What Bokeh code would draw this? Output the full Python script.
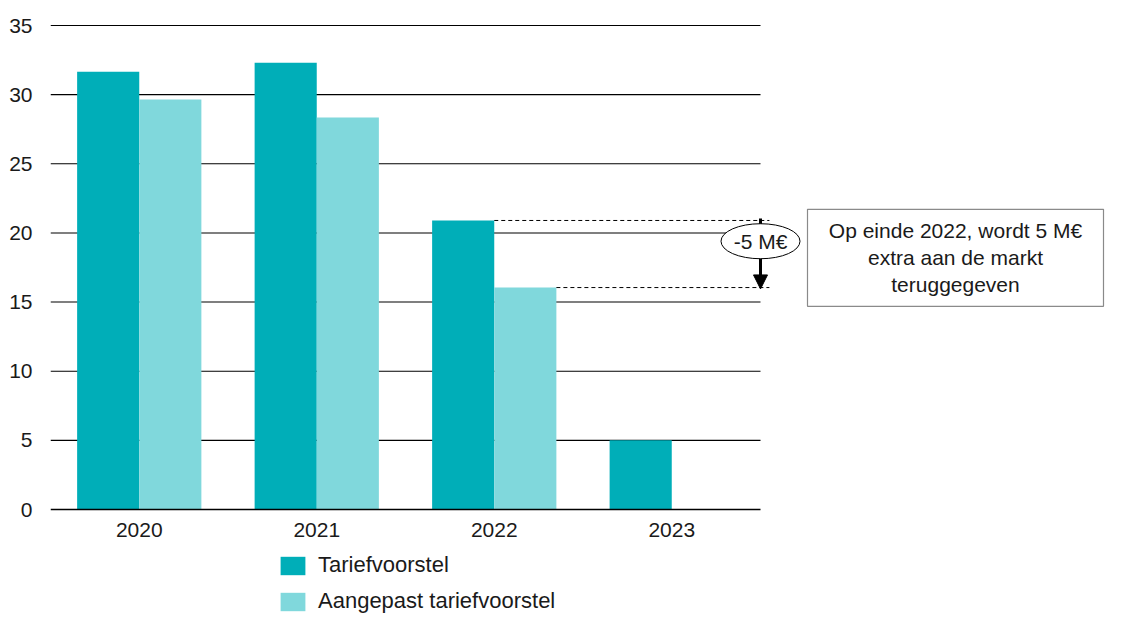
from bokeh.plotting import figure
from bokeh.models import (ColumnDataSource, Range1d, FixedTicker, Legend, LegendItem,
                          Arrow, NormalHead)
from bokeh.transform import dodge
from bokeh.embed import file_html
from bokeh.resources import INLINE
from bokeh.core.properties import value

# ---- data ----
years = ["2020", "2021", "2022", "2023"]
tariefvoorstel = [31.65, 32.3, 20.9, 5.0]
aangepast = [29.65, 28.35, 16.05, float("nan")]
y_ticks = [0, 5, 10, 15, 20, 25, 30, 35]
series_names = ["Tariefvoorstel", "Aangepast tariefvoorstel"]
delta_label = "-5 M€"
note_text = "Op einde 2022, wordt 5 M€\nextra aan de markt\nteruggegeven"
focus_year = "2022"

# ---- style / layout ----
DARK = "#00AEB8"
LIGHT = "#80D8DC"
FONT = "Liberation Sans"
TXT = "#1a1a1a"
BAR_W = 0.35
W, H = 1105, 616
LEFT = 50
PX_X = 177.5          # px per category
PX_Y = 484 / 35.0     # px per unit
Y0_PX = 509           # pixel row of value 0
n = len(years)

src = ColumnDataSource(dict(x=[i + 0.5 for i in range(n)], year=years,
                            t=tariefvoorstel, a=aangepast))

p = figure(width=W, height=H, output_backend="svg", toolbar_location=None,
           x_range=Range1d(0, (W - LEFT) / PX_X),
           y_range=Range1d(-(H - Y0_PX) / PX_Y, Y0_PX / PX_Y),
           min_border_left=LEFT, min_border_right=0, min_border_top=0, min_border_bottom=0)
p.outline_line_color = None
p.background_fill_color = "white"
p.xgrid.visible = False
p.ygrid.visible = False

# gridlines limited to the category span
grid_vals = [t for t in y_ticks if t > 0]
p.segment(x0=[0] * len(grid_vals), x1=[n] * len(grid_vals), y0=grid_vals, y1=grid_vals,
          line_color="black", line_width=1.1)

r1 = p.vbar(x=dodge("x", -BAR_W / 2, range=p.x_range), top="t", width=BAR_W, source=src,
            fill_color=DARK, line_color=None)
r2 = p.vbar(x=dodge("x", BAR_W / 2, range=p.x_range), top="a", width=BAR_W, source=src,
            fill_color=LIGHT, line_color=None)

# axes
xs = list(src.data["x"])
p.xaxis.fixed_location = 0
p.xaxis.ticker = FixedTicker(ticks=xs)
p.xaxis.major_label_overrides = {x: y for x, y in zip(xs, years)}
p.xaxis.bounds = (0, n)
p.xaxis.axis_line_color = "black"
p.xaxis.axis_line_width = 1.3
p.xaxis.major_tick_line_color = None
p.xaxis.minor_tick_line_color = None
p.xaxis.major_label_standoff = 7
p.yaxis.ticker = FixedTicker(ticks=y_ticks)
p.yaxis.axis_line_color = None
p.yaxis.major_tick_line_color = None
p.yaxis.minor_tick_line_color = None
p.yaxis.major_label_standoff = 12
for ax in (p.xaxis, p.yaxis):
    ax.major_label_text_font = FONT
    ax.major_label_text_font_size = "21px"
    ax.major_label_text_color = TXT

# annotation: difference for focus year
fi = years.index(focus_year)
top_hi = tariefvoorstel[fi]
top_lo = aangepast[fi]
x_end = n + 0.05
p.segment(x0=[fi + 0.5, fi + 0.5 + BAR_W], x1=[x_end, x_end], y0=[top_hi, top_lo], y1=[top_hi, top_lo],
          line_color="black", line_width=1, line_dash="4 3")
arrow = Arrow(x_start=n, y_start=top_hi + 0.15, x_end=n, y_end=top_lo - 0.1,
              line_color="black", line_width=3,
              end=NormalHead(size=14, fill_color="black", line_color="black"), level="underlay")
p.add_layout(arrow)
ell_y = 19.4
p.ellipse(x=[n], y=[ell_y], width=79, height=35, width_units="screen", height_units="screen",
          fill_color="white", line_color="black", line_width=1)
p.text(x=[n], y=[ell_y], text=[delta_label], text_align="center", text_baseline="middle",
       text_font=value(FONT), text_font_size="21px", text_color=TXT)

# note box
bx = (955 - LEFT) / PX_X
by = 18.2
p.rect(x=[bx], y=[by], width=296, height=97, width_units="screen", height_units="screen",
       fill_color="white", line_color="#8a8a8a", line_width=1.2)
p.text(x=[bx], y=[by], text=[note_text], text_align="center", text_baseline="middle",
       text_font=value(FONT), text_font_size="21px", text_color=TXT, text_line_height=1.18)

legend = Legend(items=[LegendItem(label=series_names[0], renderers=[r1]),
                       LegendItem(label=series_names[1], renderers=[r2])],
                location=(227, 2), orientation="vertical",
                glyph_width=31, glyph_height=23, label_height=23, spacing=10,
                label_standoff=10, padding=0, margin=0,
                border_line_color=None, background_fill_alpha=0,
                label_text_font=FONT, label_text_font_size="22px", label_text_color=TXT)
p.add_layout(legend)

open("out.html", "w").write(file_html(p, INLINE))
